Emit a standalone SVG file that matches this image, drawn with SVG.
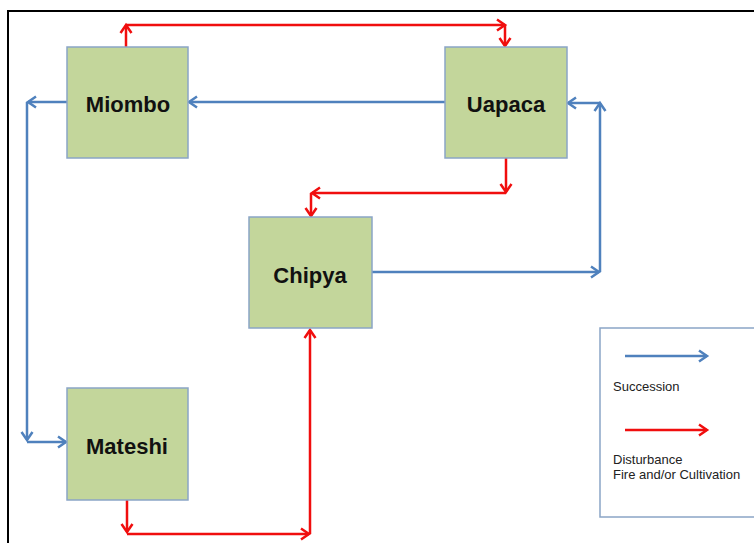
<svg xmlns="http://www.w3.org/2000/svg" width="754" height="543" viewBox="0 0 754 543">
<style>
.box{fill:#C3D69B;stroke:#8BA5C6;stroke-width:1.5}
.lbl{font-family:"Liberation Sans",Arial,sans-serif;font-weight:bold;font-size:22px;fill:#111;text-anchor:middle}
.leg{font-family:"Liberation Sans",Arial,sans-serif;font-size:13px;fill:#222}
.b{fill:none;stroke:#4F81BD;stroke-width:2.5;marker-end:url(#ab)}
.r{fill:none;stroke:#F00E0E;stroke-width:2.5;marker-end:url(#ar)}
</style>
<defs>
<marker id="ab" markerUnits="userSpaceOnUse" viewBox="-10 -7 12 14" refX="0" refY="0" markerWidth="12" markerHeight="14" orient="auto" overflow="visible">
<path d="M-8,-5.5 L0,0 L-8,5.5" fill="none" stroke="#4F81BD" stroke-width="2.5"/>
</marker>
<marker id="ar" markerUnits="userSpaceOnUse" viewBox="-10 -7 12 14" refX="0" refY="0" markerWidth="12" markerHeight="14" orient="auto" overflow="visible">
<path d="M-8,-5.5 L0,0 L-8,5.5" fill="none" stroke="#F00E0E" stroke-width="2.5"/>
</marker>
</defs>
<rect x="0" y="0" width="754" height="543" fill="#fff"/>
<rect x="8" y="11" width="770" height="560" fill="none" stroke="#000" stroke-width="2"/>
<g id="connectors">
<path class="r" d="M126,47 V25"/>
<path class="r" d="M126,25 H505"/>
<path class="r" d="M505,25 V46"/>
<path class="r" d="M506,158 V192"/>
<path class="r" d="M506,193 H312"/>
<path class="r" d="M311,193 V216"/>
<path class="r" d="M127,500 V532"/>
<path class="r" d="M127,534 H309"/>
<path class="r" d="M310,534 V330"/>
<path class="b" d="M445,102 H189"/>
<path class="b" d="M67,102 H28"/>
<path class="b" d="M27,102 V440"/>
<path class="b" d="M27,442 H66"/>
<path class="b" d="M372,272 H599"/>
<path class="b" d="M600,272 V103"/>
<path class="b" d="M600,103 H568"/>
</g>
<g id="miombo"><rect class="box" x="67" y="47" width="121" height="111"/><text class="lbl" x="128" y="112">Miombo</text></g>
<g id="uapaca"><rect class="box" x="445" y="47" width="122" height="111"/><text class="lbl" x="506" y="112">Uapaca</text></g>
<g id="chipya"><rect class="box" x="249" y="217" width="123" height="111"/><text class="lbl" x="310" y="283">Chipya</text></g>
<g id="mateshi"><rect class="box" x="67" y="388" width="121" height="112"/><text class="lbl" x="127" y="454">Mateshi</text></g>
<g id="legend">
<rect x="600" y="328" width="170" height="189" fill="#fff" stroke="#8BA5C6" stroke-width="1.5"/>
<path class="b" d="M625,356 H707"/>
<text class="leg" x="613" y="391">Succession</text>
<path class="r" d="M625,430 H707"/>
<text class="leg" x="613" y="464">Disturbance</text>
<text class="leg" x="613" y="479">Fire and/or Cultivation</text>
</g>
</svg>
